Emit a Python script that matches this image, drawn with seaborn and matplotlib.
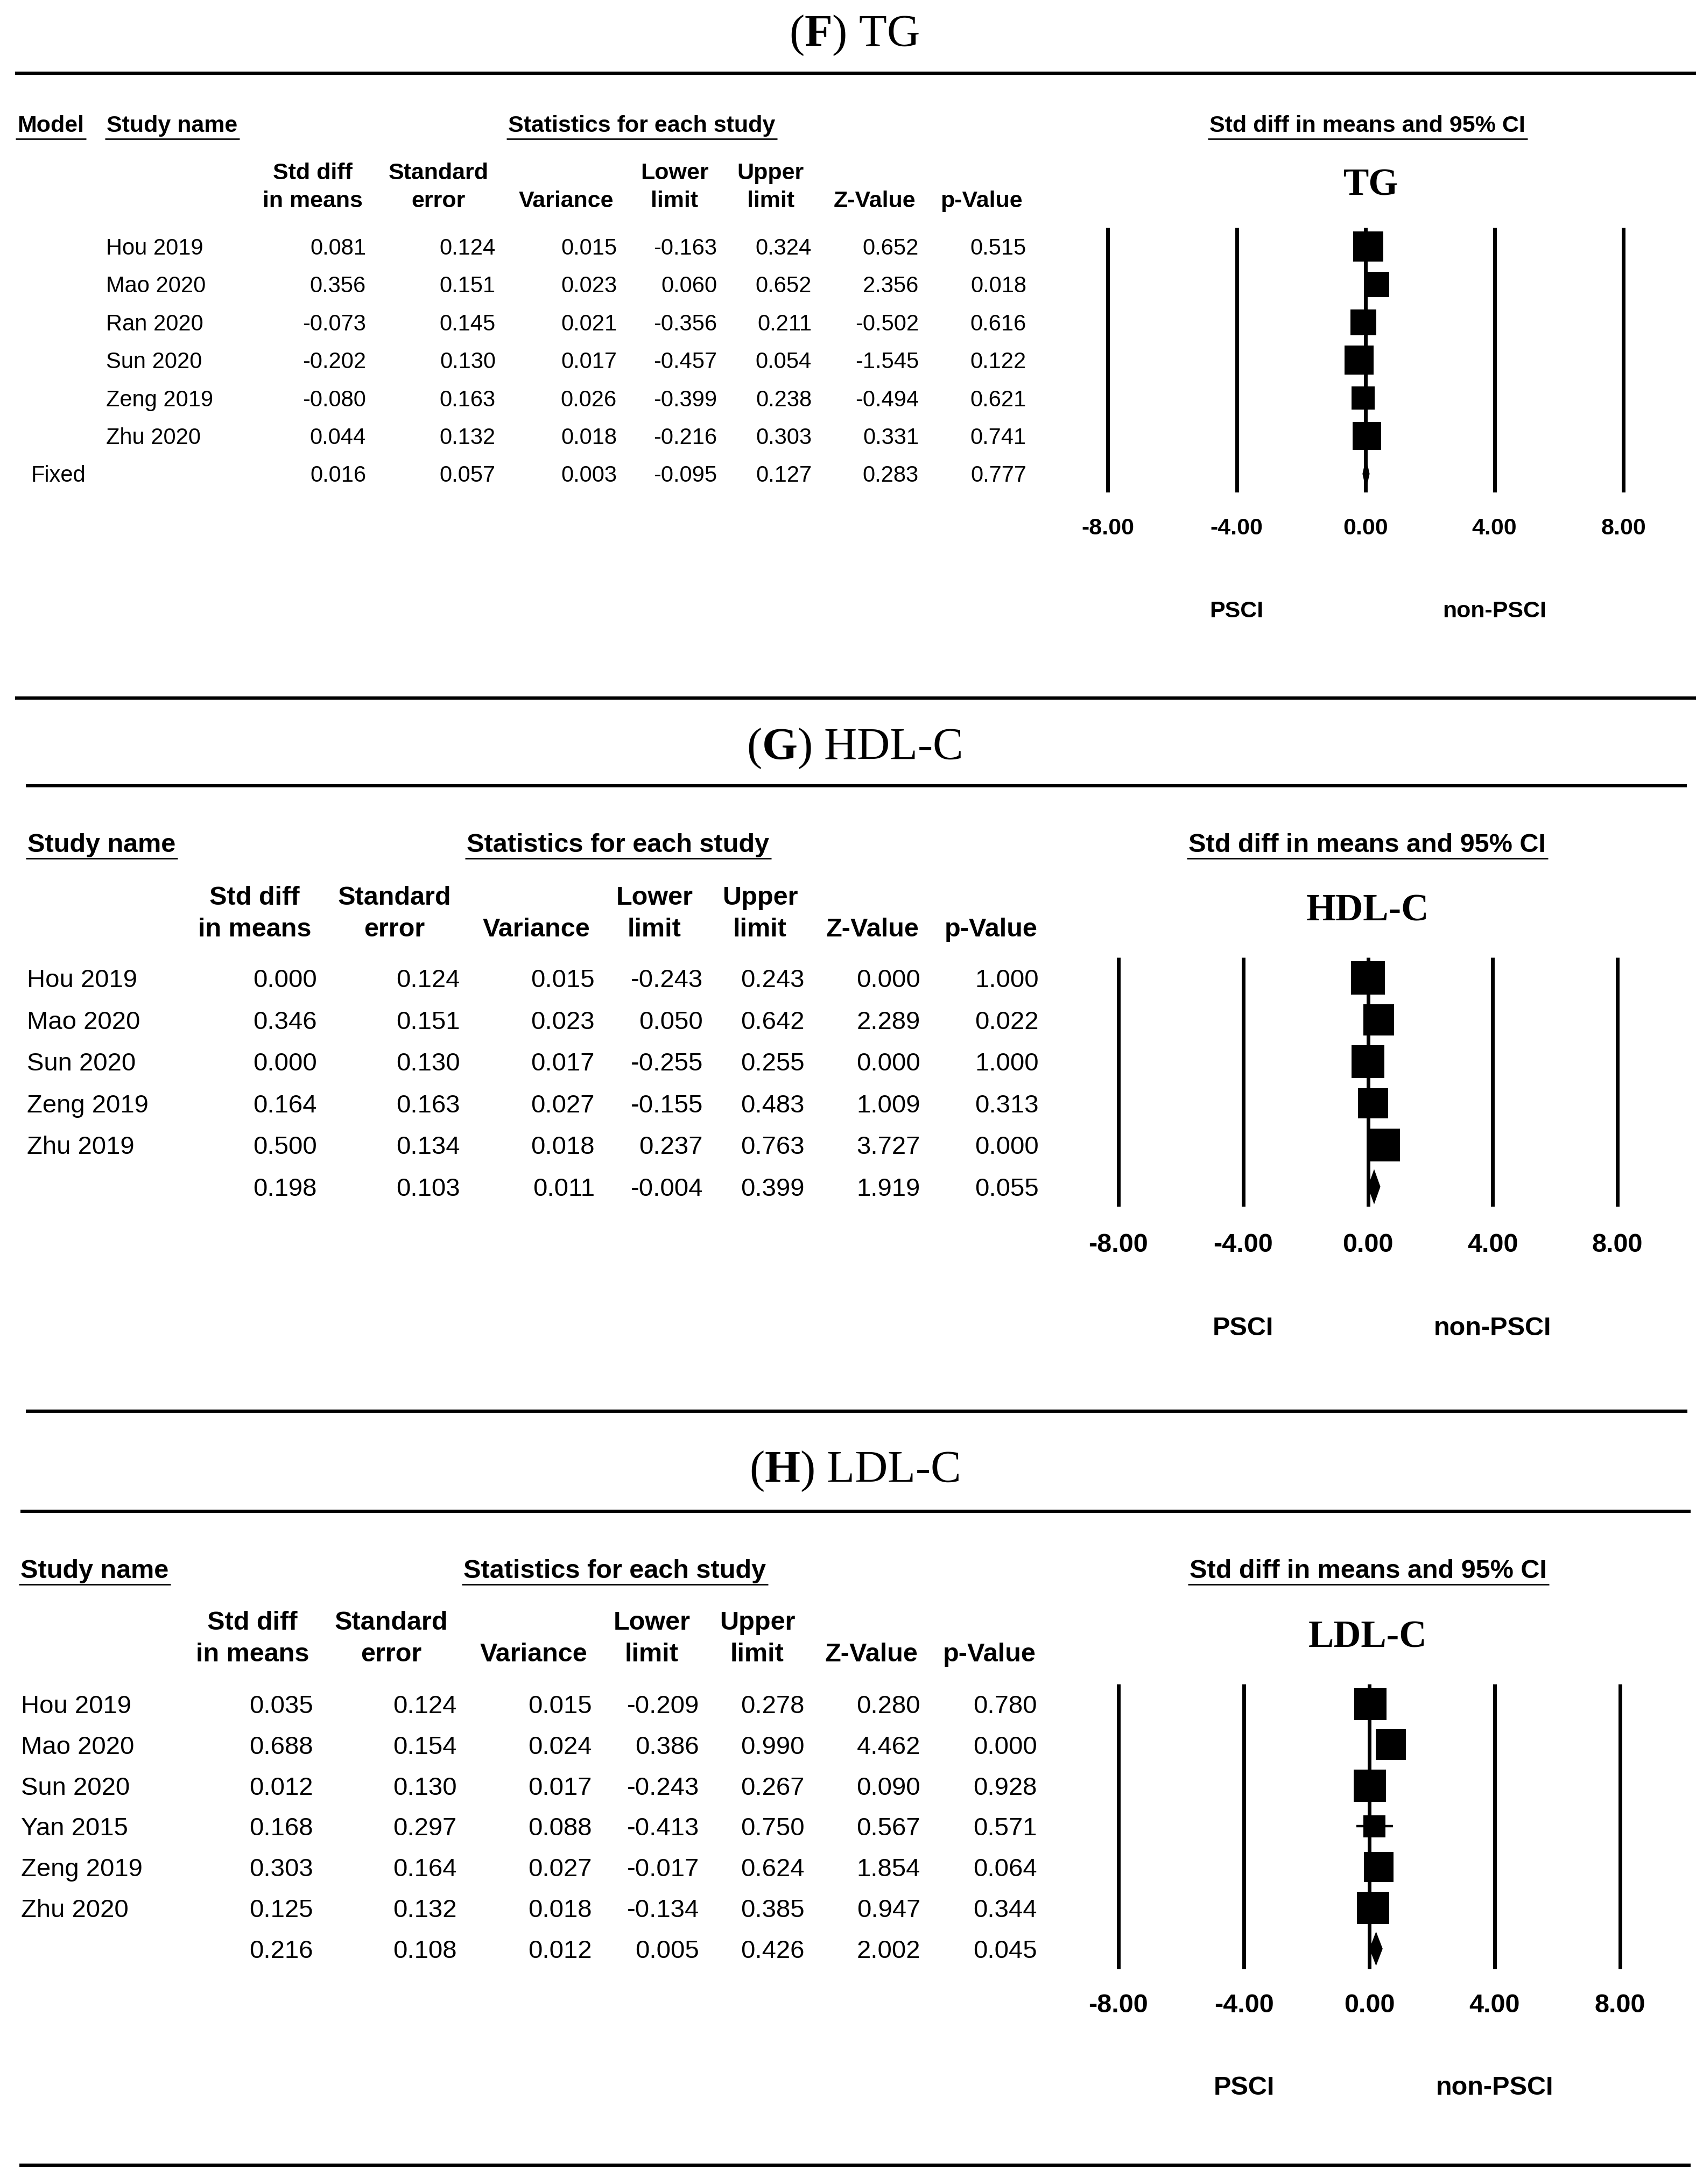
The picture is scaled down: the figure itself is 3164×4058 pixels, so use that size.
import numpy as np
import pandas as pd
import matplotlib
matplotlib.use("Agg")
import matplotlib.pyplot as plt
from matplotlib.transforms import blended_transform_factory
import seaborn as sns

# ---------------- data ----------------
F_study = ["Hou 2019", "Mao 2020", "Ran 2020", "Sun 2020", "Zeng 2019", "Zhu 2020"]
F_es = [0.081, 0.356, -0.073, -0.202, -0.080, 0.044]
F_se = [0.124, 0.151, 0.145, 0.130, 0.163, 0.132]
F_var = [0.015, 0.023, 0.021, 0.017, 0.026, 0.018]
F_lo = [-0.163, 0.060, -0.356, -0.457, -0.399, -0.216]
F_hi = [0.324, 0.652, 0.211, 0.054, 0.238, 0.303]
F_z = [0.652, 2.356, -0.502, -1.545, -0.494, 0.331]
F_p = [0.515, 0.018, 0.616, 0.122, 0.621, 0.741]
F_summary = [0.016, 0.057, 0.003, -0.095, 0.127, 0.283, 0.777]

G_study = ["Hou 2019", "Mao 2020", "Sun 2020", "Zeng 2019", "Zhu 2019"]
G_es = [0.000, 0.346, 0.000, 0.164, 0.500]
G_se = [0.124, 0.151, 0.130, 0.163, 0.134]
G_var = [0.015, 0.023, 0.017, 0.027, 0.018]
G_lo = [-0.243, 0.050, -0.255, -0.155, 0.237]
G_hi = [0.243, 0.642, 0.255, 0.483, 0.763]
G_z = [0.000, 2.289, 0.000, 1.009, 3.727]
G_p = [1.000, 0.022, 1.000, 0.313, 0.000]
G_summary = [0.198, 0.103, 0.011, -0.004, 0.399, 1.919, 0.055]

H_study = ["Hou 2019", "Mao 2020", "Sun 2020", "Yan 2015", "Zeng 2019", "Zhu 2020"]
H_es = [0.035, 0.688, 0.012, 0.168, 0.303, 0.125]
H_se = [0.124, 0.154, 0.130, 0.297, 0.164, 0.132]
H_var = [0.015, 0.024, 0.017, 0.088, 0.027, 0.018]
H_lo = [-0.209, 0.386, -0.243, -0.413, -0.017, -0.134]
H_hi = [0.278, 0.990, 0.267, 0.750, 0.624, 0.385]
H_z = [0.280, 4.462, 0.090, 0.567, 1.854, 0.947]
H_p = [0.780, 0.000, 0.928, 0.571, 0.064, 0.344]
H_summary = [0.216, 0.108, 0.012, 0.005, 0.426, 2.002, 0.045]

col_top = ["Std diff", "Standard", "", "Lower", "Upper", "", ""]
col_bot = ["in means", "error", "Variance", "limit", "limit", "Z-Value", "p-Value"]
tick_vals = [-8, -4, 0, 4, 8]
tick_labels = ["-8.00", "-4.00", "0.00", "4.00", "8.00"]

# ---------------- setup ----------------
W, H = 3164, 4058
sns.set_theme(style="white")
plt.rcParams["font.family"] = ["Liberation Sans", "DejaVu Sans"]
plt.rcParams["mathtext.fontset"] = "custom"
plt.rcParams["mathtext.rm"] = "Liberation Serif"
plt.rcParams["mathtext.bf"] = "Liberation Serif:bold"
plt.rcParams["text.color"] = "black"

fig = plt.figure(figsize=(W / 100, H / 100), dpi=100)
fig.patch.set_facecolor("white")
bg = fig.add_axes([0, 0, 1, 1])
bg.set_xlim(0, W)
bg.set_ylim(H, 0)
bg.axis("off")

underline_items = []


def put(x, y, s, size, serif=False, transform=None, **kw):
    """Place text so that its cap-height centre sits at pixel row y."""
    cap = 0.331 if serif else 0.358
    yb = y + cap * size * 100.0 / 72.0
    if serif:
        kw.setdefault("fontfamily", "Liberation Serif")
    return bg.text(x, yb, s, fontsize=size, va="baseline",
                   transform=transform if transform is not None else bg.transData, **kw)


def rule(y, x0, x1, lw=4.3):
    bg.plot([x0, x1], [y, y], color="black", lw=lw, solid_capstyle="butt")


def rel_weights(es, se, random):
    es = np.asarray(es, float)
    v = np.asarray(se, float) ** 2
    w = 1.0 / v
    if random:
        mu = np.sum(w * es) / np.sum(w)
        q = np.sum(w * (es - mu) ** 2)
        c = np.sum(w) - np.sum(w ** 2) / np.sum(w)
        tau2 = max(0.0, (q - (len(es) - 1)) / c)
        w = 1.0 / (v + tau2)
    return w / w.max()


def panel(L, study, es, se, var, lo, hi, z, p, summ, random, letter, name, inner, model_label):
    put(1587, L["title_y"], "(" + r"$\mathbf{" + letter + "}$" + ") " + name, 61,
        serif=True, ha="center")
    rule(L["rule_y"], L["rule_x0"], L["rule_x1"])

    hs, vs = L["hdr_fs"], L["val_fs"]
    hy = L["hdr_y"]
    heads = []
    if model_label:
        heads.append((L["model_x"], "Model"))
    heads += [(L["name_hx"], "Study name"), (L["stat_x"], "Statistics for each study"),
              (L["ci_x"], "Std diff in means and 95% CI")]
    for x, t in heads:
        tx = put(x, hy, t, hs, fontweight="bold", ha="left")
        underline_items.append((tx, hy + L["ul_off"]))

    for c, t1, t2 in zip(L["centers"], col_top, col_bot):
        if t1:
            put(c, L["ch1"], t1, hs, fontweight="bold", ha="center")
        put(c, L["ch2"], t2, hs, fontweight="bold", ha="center")

    n = len(study)
    rows = np.arange(n + 1)
    ypix = L["y0"] + rows * L["dy"]
    cols = [es, se, var, lo, hi, z, p]
    for i in range(n):
        put(L["name_x"], ypix[i], study[i], vs, ha="left")
        for r, colv in zip(L["rights"], cols):
            put(r, ypix[i], f"{colv[i]:.3f}", vs, ha="right")
    if model_label:
        put(L["model_vx"], ypix[n], model_label, vs, ha="left")
    for r, v in zip(L["rights"], summ):
        put(r, ypix[n], f"{v:.3f}", vs, ha="right")

    # forest axes
    x8m, x8p, T, B = L["x8m"], L["x8p"], L["T"], L["B"]
    ppu = (x8p - x8m) / 16.0
    xl, xr = -8.6, 8.6
    left = x8m + (xl + 8) * ppu
    right = x8m + (xr + 8) * ppu
    ax = fig.add_axes([left / W, 1 - B / H, (right - left) / W, (B - T) / H])
    ax.patch.set_alpha(0)
    for t in tick_vals:
        ax.axvline(t, color="black", lw=5, solid_capstyle="butt", zorder=1)
    ax.hlines(rows[:n], lo, hi, colors="black", lw=3.2, zorder=2)
    df = pd.DataFrame({"es": es, "row": rows[:n], "w": rel_weights(es, se, random)})
    smax = (0.8 * L["dy"] * 0.72) ** 2
    sns.scatterplot(data=df, x="es", y="row", size="w", sizes=(0, smax), size_norm=(0, 1),
                    marker="s", color="black", edgecolor="black", linewidth=0,
                    legend=False, ax=ax, zorder=3)
    h = 0.42
    e, l_, u_ = summ[0], summ[3], summ[4]
    ax.fill([l_, e, u_, e], [n, n - h, n, n + h], color="black", lw=0, zorder=3)
    ax.set_xlim(xl, xr)
    ax.set_ylim((B - L["y0"]) / L["dy"], (T - L["y0"]) / L["dy"])
    ax.axis("off")

    tr = blended_transform_factory(ax.transData, bg.transData)
    for t, lab in zip(tick_vals, tick_labels):
        put(t, L["tick_y"], lab, L["tick_fs"], transform=tr, fontweight="bold", ha="center")
    put(-4, L["psci_y"], "PSCI", L["tick_fs"], transform=tr, fontweight="bold", ha="center")
    put(4, L["psci_y"], "non-PSCI", L["tick_fs"], transform=tr, fontweight="bold", ha="center")
    put(L["inner_x"], L["inner_y"], inner, 51, serif=True, fontweight="bold", ha="center")


LF = dict(title_y=58, rule_y=136, rule_x0=28, rule_x1=3151, hdr_y=230, ul_off=28,
          model_x=32, name_hx=198, stat_x=944, ci_x=2247, ch1=318, ch2=370,
          centers=[581, 815, 1052, 1253, 1432, 1625, 1823],
          rights=[680, 921, 1146, 1332, 1508, 1707, 1907],
          name_x=197, model_vx=58, y0=458, dy=70.4,
          x8m=2058, x8p=3016, T=423, B=915, tick_y=978, psci_y=1132,
          inner_x=2547, inner_y=339, hdr_fs=31, val_fs=30, tick_fs=31)
LG = dict(title_y=1383, rule_y=1460, rule_x0=48, rule_x1=3134, hdr_y=1566, ul_off=29,
          name_hx=51, stat_x=867, ci_x=2208, ch1=1664, ch2=1723,
          centers=[473, 733, 997, 1216, 1412, 1621, 1841],
          rights=[589, 855, 1105, 1306, 1495, 1710, 1930],
          name_x=50, y0=1817, dy=77.6,
          x8m=2078, x8p=3005, T=1779, B=2242, tick_y=2309, psci_y=2464,
          inner_x=2541, inner_y=1687, hdr_fs=35, val_fs=34, tick_fs=35)
LH = dict(title_y=2726, rule_y=2808, rule_x0=38, rule_x1=3141, hdr_y=2915, ul_off=29,
          name_hx=38, stat_x=861, ci_x=2210, ch1=3011, ch2=3070,
          centers=[469, 727, 992, 1211, 1407, 1619, 1838],
          rights=[582, 849, 1100, 1299, 1495, 1710, 1927],
          name_x=39, y0=3166, dy=75.8,
          x8m=2078, x8p=3010, T=3129, B=3659, tick_y=3722, psci_y=3875,
          inner_x=2541, inner_y=3037, hdr_fs=35, val_fs=34, tick_fs=35)

panel(LF, F_study, F_es, F_se, F_var, F_lo, F_hi, F_z, F_p, F_summary, False, "F", "TG", "TG", "Fixed")
rule(1297, 28, 3151)
panel(LG, G_study, G_es, G_se, G_var, G_lo, G_hi, G_z, G_p, G_summary, True, "G", "HDL-C", "HDL-C", None)
rule(2622, 48, 3135)
panel(LH, H_study, H_es, H_se, H_var, H_lo, H_hi, H_z, H_p, H_summary, True, "H", "LDL-C", "LDL-C", None)
rule(4023, 36, 3141)

# underlines below the group headings
fig.canvas.draw()
renderer = fig.canvas.get_renderer()
inv = bg.transData.inverted()
for tx, uy in underline_items:
    bb = tx.get_window_extent(renderer)
    x0 = inv.transform((bb.x0, bb.y0))[0]
    x1 = inv.transform((bb.x1, bb.y0))[0]
    bg.plot([x0 - 3, x1 + 4], [uy, uy], color="black", lw=1.9, solid_capstyle="butt")

fig.savefig("out.png", dpi=100, facecolor="white")
